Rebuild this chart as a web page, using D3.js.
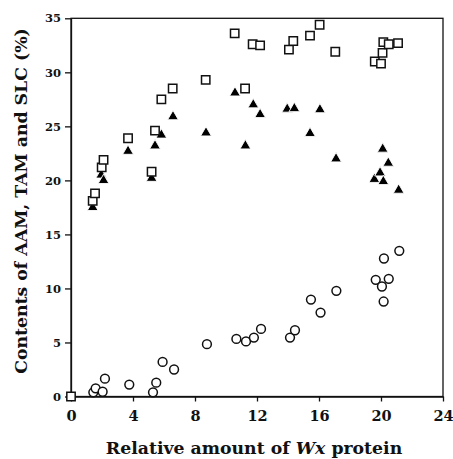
<!DOCTYPE html>
<html>
<head>
<meta charset="utf-8">
<script src="https://cdn.jsdelivr.net/npm/d3@7"></script>
<style>
  html, body { margin: 0; padding: 0; background: #fff; }
  svg { display: block; }
</style>
</head>
<body>
<svg id="chart" width="453" height="459"></svg>
<script>
// ---- data ----
const xTicks = [0, 4, 8, 12, 16, 20, 24];
const yTicks = [0, 5, 10, 15, 20, 25, 30, 35];

const squareX = [0, 1.4, 1.55, 1.98, 2.1, 3.68, 5.2, 5.42, 5.83, 6.56, 8.69, 10.56, 11.23, 11.72, 12.2, 14.06, 14.34, 15.42, 16.04, 17.05, 19.6, 20.0, 20.1, 20.15, 20.5, 21.1];
const squareY = [0, 18.1, 18.8, 21.2, 21.9, 23.9, 20.8, 24.6, 27.5, 28.5, 29.3, 33.6, 28.5, 32.6, 32.5, 32.1, 32.9, 33.4, 34.4, 31.9, 31.0, 30.8, 31.8, 32.8, 32.6, 32.7];

const triangleX = [1.4, 1.95, 2.1, 3.68, 5.2, 5.42, 5.83, 6.58, 8.71, 10.58, 11.25, 11.76, 12.2, 13.95, 14.41, 15.42, 16.06, 17.1, 19.57, 19.94, 20.15, 20.11, 20.47, 21.14];
const triangleY = [17.5, 20.5, 20.0, 22.7, 20.2, 23.2, 24.2, 25.9, 24.4, 28.1, 23.2, 27.0, 26.1, 26.6, 26.65, 24.35, 26.55, 22.0, 20.1, 20.7, 19.9, 22.9, 21.6, 19.1];

const circleX = [1.44, 1.59, 2.04, 2.19, 3.76, 5.29, 5.5, 5.91, 6.65, 8.77, 10.67, 11.29, 11.8, 12.26, 14.13, 14.45, 15.48, 16.1, 17.12, 19.66, 20.06, 20.5, 20.19, 21.18, 20.17];
const circleY = [0.39, 0.76, 0.44, 1.65, 1.1, 0.39, 1.28, 3.2, 2.5, 4.84, 5.33, 5.1, 5.45, 6.25, 5.45, 6.13, 8.97, 7.77, 9.78, 10.8, 10.18, 10.89, 12.77, 13.48, 8.79];

const xTitleA = "Relative amount of ";
const xTitleB = "Wx";
const xTitleC = " protein";
const yTitle = "Contents of AAM, TAM and SLC (%)";

// ---- layout ----
const svg = d3.select("#chart");
const plotL = 71, plotR = 443, plotT = 18.3, plotB = 396.5;
const serif = "'DejaVu Serif', 'Liberation Serif', serif";

const x = d3.scaleLinear().domain([0, 24]).range([plotL, plotR]);
const y = d3.scaleLinear().domain([0, 35]).range([plotB, plotT]);

// frame
svg.append("rect")
  .attr("x", plotL).attr("y", plotT)
  .attr("width", plotR - plotL).attr("height", plotB - plotT)
  .attr("fill", "none").attr("stroke", "#111").attr("stroke-width", 1.3);

// x axis
const gx = svg.append("g")
  .attr("transform", `translate(0,${plotB})`)
  .call(d3.axisBottom(x).tickValues(xTicks).tickSize(5).tickSizeOuter(0).tickPadding(9));
gx.select(".domain").attr("stroke", "#111").attr("stroke-width", 1.3);
gx.selectAll(".tick line").attr("stroke", "#111").attr("stroke-width", 1.3);
gx.selectAll(".tick text")
  .attr("font-family", serif).attr("font-weight", "bold").attr("font-size", 14.5).attr("fill", "#111");

// y axis
const gy = svg.append("g")
  .attr("transform", `translate(${plotL},0)`)
  .call(d3.axisLeft(y).tickValues(yTicks).tickSize(6).tickSizeOuter(0).tickPadding(4));
gy.select(".domain").attr("stroke", "#111").attr("stroke-width", 1.3);
gy.selectAll(".tick line").attr("stroke", "#111").attr("stroke-width", 1.3);
gy.selectAll(".tick text")
  .attr("font-family", serif).attr("font-weight", "bold").attr("font-size", 11.5).attr("fill", "#111");

// titles
const xt = svg.append("text")
  .attr("x", (plotL + plotR) / 2 - 3).attr("y", 454)
  .attr("text-anchor", "middle")
  .attr("font-family", serif).attr("font-weight", "bold").attr("font-size", 17.3).attr("fill", "#111");
xt.append("tspan").text(xTitleA);
xt.append("tspan").attr("font-style", "italic").text(xTitleB);
xt.append("tspan").text(xTitleC);

svg.append("text")
  .attr("transform", "translate(27,201) rotate(-90)")
  .attr("text-anchor", "middle")
  .attr("font-family", serif).attr("font-weight", "bold").attr("font-size", 17.3).attr("fill", "#111")
  .text(yTitle);

// markers
const tri = d3.symbol().type(d3.symbolTriangle).size(50);
svg.append("g").selectAll("path")
  .data(d3.range(triangleX.length))
  .join("path")
  .attr("d", tri)
  .attr("transform", i => `translate(${x(triangleX[i])},${y(triangleY[i])})`)
  .attr("fill", "#000").attr("stroke", "#fff").attr("stroke-width", 0.9);

const sq = d3.symbol().type(d3.symbolSquare).size(70);
svg.append("g").selectAll("path")
  .data(d3.range(squareX.length))
  .join("path")
  .attr("d", sq)
  .attr("transform", i => `translate(${x(squareX[i])},${y(squareY[i])})`)
  .attr("fill", "#fff").attr("stroke", "#111").attr("stroke-width", 1.5);

svg.append("g").selectAll("circle")
  .data(d3.range(circleX.length))
  .join("circle")
  .attr("cx", i => x(circleX[i]))
  .attr("cy", i => y(circleY[i]))
  .attr("r", 4.4)
  .attr("fill", "#fff").attr("stroke", "#111").attr("stroke-width", 1.5);
</script>
</body>
</html>
